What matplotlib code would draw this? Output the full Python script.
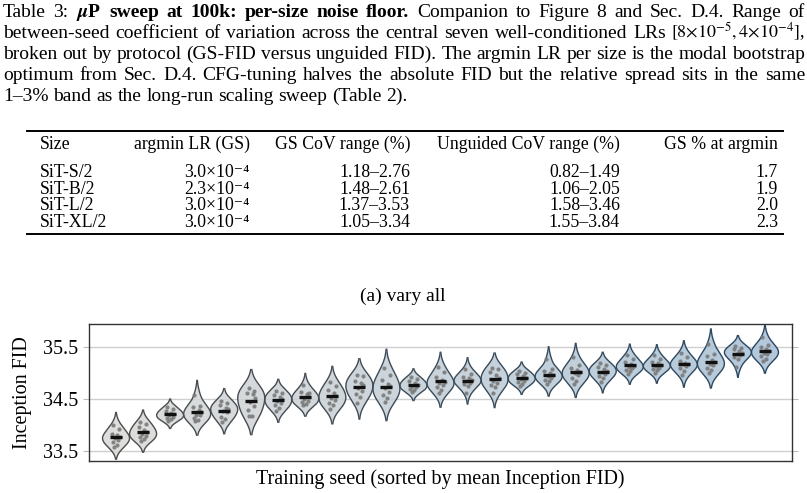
import numpy as np
import matplotlib
matplotlib.use("Agg")
import matplotlib.pyplot as plt
from matplotlib.lines import Line2D

plt.rcParams["font.family"] = ["Liberation Serif", "DejaVu Serif"]
plt.rcParams["mathtext.fontset"] = "stix"

# ---- table data ----
sizes = ["SiT-S/2", "SiT-B/2", "SiT-L/2", "SiT-XL/2"]
argmin_lr = ["3.0×10⁻⁴", "2.3×10⁻⁴", "3.0×10⁻⁴", "3.0×10⁻⁴"]
gs_cov_range = ["1.18–2.76", "1.48–2.61", "1.37–3.53", "1.05–3.34"]
unguided_cov_range = ["0.82–1.49", "1.06–2.05", "1.58–3.46", "1.55–3.84"]
gs_pct_at_argmin = ["1.7", "1.9", "2.0", "2.3"]
table_headers = ["Size", "argmin LR (GS)", "GS CoV range (%)", "Unguided CoV range (%)", "GS % at argmin"]

# ---- violin data: Inception FID per training seed (runs) ----
seed_runs = [
    [34.01, 33.92, 33.83, 33.81, 33.77, 33.75, 33.72, 33.67, 33.62, 33.58],
    [34.07, 34.02, 33.97, 33.90, 33.87, 33.83, 33.80, 33.77, 33.73, 33.70],
    [34.35, 34.31, 34.27, 34.24, 34.21, 34.19, 34.16, 34.14, 34.11, 34.09],
    [34.59, 34.37, 34.35, 34.30, 34.25, 34.20, 34.19, 34.14, 34.10, 34.08],
    [34.47, 34.43, 34.38, 34.33, 34.31, 34.28, 34.25, 34.16, 34.12, 34.07],
    [34.72, 34.66, 34.63, 34.60, 34.52, 34.45, 34.37, 34.30, 34.18, 34.17],
    [34.66, 34.62, 34.58, 34.54, 34.50, 34.47, 34.42, 34.38, 34.33, 34.28],
    [34.78, 34.62, 34.64, 34.60, 34.55, 34.50, 34.47, 34.44, 34.41, 34.39],
    [34.84, 34.75, 34.68, 34.62, 34.57, 34.52, 34.49, 34.43, 34.38, 34.32],
    [34.97, 34.94, 34.86, 34.81, 34.78, 34.72, 34.65, 34.60, 34.54, 34.43],
    [35.10, 34.97, 34.88, 34.80, 34.75, 34.71, 34.64, 34.58, 34.52, 34.45],
    [34.92, 34.89, 34.85, 34.81, 34.78, 34.76, 34.73, 34.70, 34.67, 34.64],
    [35.13, 35.02, 34.93, 34.87, 34.84, 34.81, 34.78, 34.74, 34.68, 34.62],
    [35.08, 34.98, 34.93, 34.90, 34.87, 34.85, 34.82, 34.79, 34.76, 34.63],
    [35.11, 35.08, 35.03, 34.96, 34.91, 34.86, 34.82, 34.77, 34.74, 34.62],
    [35.05, 35.01, 34.98, 34.94, 34.91, 34.89, 34.86, 34.83, 34.80, 34.76],
    [35.27, 35.08, 35.04, 35.00, 34.97, 34.94, 34.91, 34.88, 34.85, 34.80],
    [35.31, 35.16, 35.10, 35.06, 35.03, 35.00, 34.96, 34.91, 34.86, 34.80],
    [35.20, 35.16, 35.12, 35.08, 35.05, 35.02, 34.99, 34.95, 34.91, 34.83],
    [35.36, 35.28, 35.22, 35.18, 35.15, 35.12, 35.10, 35.07, 35.04, 34.99],
    [35.36, 35.28, 35.22, 35.19, 35.16, 35.14, 35.11, 35.08, 35.07, 35.00],
    [35.40, 35.32, 35.24, 35.20, 35.17, 35.18, 35.14, 35.10, 35.05, 34.96],
    [35.56, 35.38, 35.33, 35.26, 35.22, 35.18, 35.16, 35.10, 35.06, 35.01],
    [35.52, 35.49, 35.46, 35.43, 35.40, 35.38, 35.35, 35.31, 35.27, 35.13],
    [35.69, 35.54, 35.50, 35.47, 35.43, 35.40, 35.37, 35.33, 35.28, 35.24],
]
y_ticks = [33.5, 34.5, 35.5]

# fixed horizontal jitter pattern for the dots
jitter = [-0.10, 0.12, -0.16, 0.05, 0.15, -0.04, 0.09, -0.13, 0.02, -0.07]

W, H = 807, 493
FS_CAP = 14
FS_TAB = 12.8
FS_AX = 14.5

fig = plt.figure(figsize=(W / 100, H / 100), dpi=100)
renderer = fig.canvas.get_renderer()


def justified(words, y, x0=3, x1=805, justify=True):
    texts = []
    for w, weight in words:
        size = FS_CAP - 1 if w.startswith("$[") else FS_CAP
        t = fig.text(0, 1 - y / H, w, fontsize=size, fontweight=weight, va="baseline", ha="left")
        texts.append(t)
    widths = [t.get_window_extent(renderer).width for t in texts]
    if justify and len(texts) > 1:
        gap = (x1 - x0 - sum(widths)) / (len(texts) - 1)
    else:
        gap = FS_CAP * 0.25 * 100 / 72
    x = x0
    for t, wd in zip(texts, widths):
        t.set_x(x / W)
        x += wd + gap


def words_of(s, weight="normal"):
    return [(w, weight) for w in s.split(" ")]


caption = [
    words_of("Table 3:") + words_of(r"$\mathbfit{\mu}$P sweep at 100k: per-size noise floor.", "bold")
    + words_of("Companion to Figure 8 and Sec. D.4. Range of"),
    words_of("between-seed coefficient of variation across the central seven well-conditioned LRs")
    + [(r"$[8{\times}10^{-5}, 4{\times}10^{-4}]$,", "normal")],
    words_of("broken out by protocol (GS-FID versus unguided FID). The argmin LR per size is the modal bootstrap"),
    words_of("optimum from Sec. D.4. CFG-tuning halves the absolute FID but the relative spread sits in the same"),
    words_of("1–3% band as the long-run scaling sweep (Table 2)."),
]
baselines = [17, 38, 59, 80, 101]
for i, (line, yb) in enumerate(zip(caption, baselines)):
    justified(line, yb, justify=(i < len(caption) - 1))

# ---- table ----
rule_x0, rule_x1 = 27, 783
for yr, lw in [(131, 1.4), (234, 1.4)]:
    fig.add_artist(Line2D([rule_x0 / W, rule_x1 / W], [1 - yr / H, 1 - yr / H], color="black", lw=lw))

col_x = [40, 250, 410, 620, 778]
col_ha = ["left", "right", "right", "right", "right"]
for hdr, cx, ha in zip(table_headers, col_x, col_ha):
    fig.text(cx / W, 1 - 149 / H, hdr, fontsize=FS_TAB, ha=ha, va="baseline")
row_base = [177, 194, 210, 227]
for r, yb in enumerate(row_base):
    cells = [sizes[r], argmin_lr[r], gs_cov_range[r], unguided_cov_range[r], gs_pct_at_argmin[r]]
    for cell, cx, ha in zip(cells, col_x, col_ha):
        fig.text(cx / W, 1 - yb / H, cell, fontsize=FS_TAB, ha=ha, va="baseline")

fig.text(403 / W, 1 - 301 / H, "(a) vary all", fontsize=FS_CAP, ha="center", va="baseline")

# ---- violin plot ----
ax = fig.add_axes([89 / W, 1 - 461 / H, (792 - 89) / W, (461 - 324) / H])
n = len(seed_runs)
c0 = np.array([0.85, 0.85, 0.84])
c1 = np.array([0.65, 0.75, 0.83])
e0 = np.array([0.30, 0.30, 0.30])
e1 = np.array([0.16, 0.28, 0.39])
cut, bw_adjust, half_width = 2.0, 1.4, 0.5

for i, runs in enumerate(seed_runs):
    d = np.asarray(runs)
    f = i / (n - 1)
    fill = c0 + (c1 - c0) * f
    edge = e0 + (e1 - e0) * f
    bw = d.std(ddof=1) * len(d) ** (-1 / 5) * bw_adjust
    grid = np.linspace(d.min() - cut * bw, d.max() + cut * bw, 200)
    dens = np.exp(-0.5 * ((grid[:, None] - d[None, :]) / bw) ** 2).sum(axis=1)
    dens = dens / dens.max() * half_width
    ax.fill_betweenx(grid, i - dens, i + dens, facecolor=fill, edgecolor="none", alpha=0.85, zorder=2)
    ax.plot(i - dens, grid, color=edge, lw=1.0, zorder=3)
    ax.plot(i + dens, grid, color=edge, lw=1.0, zorder=3)
    ax.scatter(i + np.array(jitter[: len(d)]), d, s=9, color="#7a7a7a", alpha=0.9, lw=0, zorder=4)
    m = d.mean()
    ax.plot([i - 0.22, i + 0.22], [m, m], color="#111111", lw=2.4, solid_capstyle="butt", zorder=5)

ax.set_xlim(-1, n)
ax.set_ylim(33.31, 35.95)
ax.set_yticks(y_ticks)
ax.set_yticklabels([f"{t:.1f}" for t in y_ticks], fontsize=FS_AX)
ax.set_xticks([])
ax.yaxis.grid(True, color="#cfcfcf", lw=1.0, zorder=0)
ax.set_axisbelow(True)
ax.tick_params(axis="y", which="both", left=True, right=True, direction="out", length=4,
               color="#bbbbbb", pad=4)
for s in ax.spines.values():
    s.set_color("#333333")
    s.set_linewidth(1.0)
ax.set_ylabel("Inception FID", fontsize=FS_AX, labelpad=8)
ax.set_xlabel("Training seed (sorted by mean Inception FID)", fontsize=FS_AX, labelpad=6)

fig.savefig("out.png", dpi=100)
